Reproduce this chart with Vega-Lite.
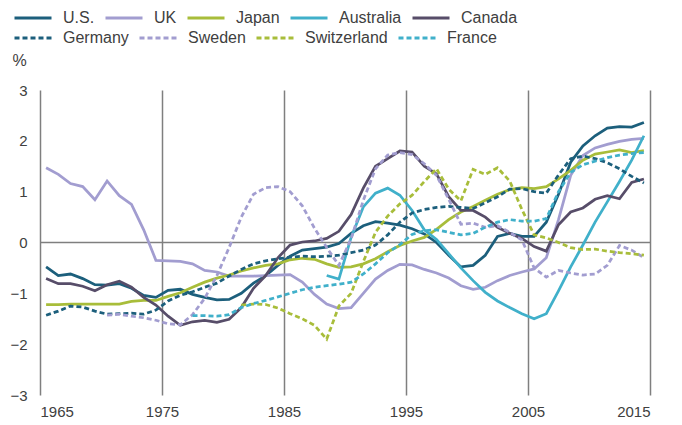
{
  "$schema": "https://vega.github.io/schema/vega-lite/v6.json",
  "width": 610,
  "height": 305,
  "autosize": "none",
  "padding": {"left": 40, "top": 90, "right": 32, "bottom": 30},
  "background": "white",
  "config": {
    "font": "Liberation Sans",
    "view": {"stroke": null},
    "legend": {
      "title": null, "orient": "none", "direction": "horizontal",
      "symbolType": "stroke", "symbolSize": 1369, "symbolStrokeWidth": 3,
      "labelFontSize": 16, "labelColor": "#404040", "labelOffset": 10,
      "columnPadding": 4
    }
  },
  "data": {
    "values": [
      {"year": 1965, "US": -0.48, "UK": 1.47, "Japan": -1.22, "Canada": -0.71, "Germany": -1.43},
      {"year": 1966, "US": -0.65, "UK": 1.34, "Japan": -1.22, "Canada": -0.81, "Germany": -1.35},
      {"year": 1967, "US": -0.62, "UK": 1.16, "Japan": -1.21, "Canada": -0.81, "Germany": -1.25},
      {"year": 1968, "US": -0.71, "UK": 1.10, "Japan": -1.21, "Canada": -0.86, "Germany": -1.27},
      {"year": 1969, "US": -0.83, "UK": 0.84, "Japan": -1.21, "Canada": -0.95, "Germany": -1.35},
      {"year": 1970, "US": -0.84, "UK": 1.21, "Japan": -1.21, "Canada": -0.83, "Germany": -1.41, "Sweden": -1.43},
      {"year": 1971, "US": -0.81, "UK": 0.92, "Japan": -1.21, "Canada": -0.76, "Germany": -1.40, "Sweden": -1.41},
      {"year": 1972, "US": -0.90, "UK": 0.75, "Japan": -1.16, "Canada": -0.88, "Germany": -1.39, "Sweden": -1.45},
      {"year": 1973, "US": -1.04, "UK": 0.25, "Japan": -1.14, "Canada": -1.08, "Germany": -1.41, "Sweden": -1.48},
      {"year": 1974, "US": -1.08, "UK": -0.35, "Japan": -1.14, "Canada": -1.23, "Germany": -1.33, "Sweden": -1.53},
      {"year": 1975, "US": -0.94, "UK": -0.36, "Japan": -1.06, "Canada": -1.45, "Germany": -1.15, "Sweden": -1.60},
      {"year": 1976, "US": -0.92, "UK": -0.37, "Japan": -0.99, "Canada": -1.63, "Germany": -1.04, "Sweden": -1.62},
      {"year": 1977, "US": -1.02, "UK": -0.42, "Japan": -0.88, "Canada": -1.56, "Germany": -0.97, "Sweden": -1.42, "France": -1.44},
      {"year": 1978, "US": -1.08, "UK": -0.55, "Japan": -0.78, "Canada": -1.53, "Germany": -0.88, "Sweden": -1.10, "France": -1.44},
      {"year": 1979, "US": -1.13, "UK": -0.58, "Japan": -0.70, "Canada": -1.57, "Germany": -0.80, "Sweden": -0.65, "France": -1.45},
      {"year": 1980, "US": -1.12, "UK": -0.66, "Japan": -0.64, "Canada": -1.51, "Germany": -0.66, "Sweden": -0.10, "France": -1.42},
      {"year": 1981, "US": -1.00, "UK": -0.66, "Japan": -0.56, "Canada": -1.28, "Germany": -0.53, "Sweden": 0.50, "Switzerland": -1.23, "France": -1.28},
      {"year": 1982, "US": -0.80, "UK": -0.66, "Japan": -0.50, "Canada": -0.90, "Germany": -0.42, "Sweden": 0.95, "Switzerland": -1.21, "France": -1.20},
      {"year": 1983, "US": -0.65, "UK": -0.65, "Japan": -0.45, "Canada": -0.65, "Germany": -0.36, "Sweden": 1.08, "Switzerland": -1.22, "France": -1.14},
      {"year": 1984, "US": -0.45, "UK": -0.64, "Japan": -0.42, "Canada": -0.30, "Germany": -0.32, "Sweden": 1.10, "Switzerland": -1.29, "France": -1.07},
      {"year": 1985, "US": -0.27, "UK": -0.63, "Japan": -0.34, "Canada": -0.05, "Germany": -0.29, "Sweden": 1.00, "Switzerland": -1.40, "France": -1.00},
      {"year": 1986, "US": -0.15, "UK": -0.78, "Japan": -0.31, "Canada": 0.01, "Germany": -0.27, "Sweden": 0.72, "Switzerland": -1.50, "France": -0.93},
      {"year": 1987, "US": -0.12, "UK": -1.02, "Japan": -0.33, "Canada": 0.03, "Germany": -0.28, "Sweden": 0.28, "Switzerland": -1.63, "France": -0.88},
      {"year": 1988, "US": -0.09, "UK": -1.21, "Japan": -0.42, "Australia": -0.65, "Canada": 0.08, "Germany": -0.27, "Sweden": -0.10, "Switzerland": -1.90, "France": -0.85},
      {"year": 1989, "US": -0.02, "UK": -1.30, "Japan": -0.49, "Australia": -0.72, "Canada": 0.22, "Germany": -0.25, "Sweden": -0.45, "Switzerland": -1.25, "France": -0.82},
      {"year": 1990, "US": 0.18, "UK": -1.28, "Japan": -0.48, "Australia": 0.10, "Canada": 0.55, "Germany": -0.20, "Sweden": 0.07, "Switzerland": -1.00, "France": -0.78},
      {"year": 1991, "US": 0.33, "UK": -1.00, "Japan": -0.42, "Australia": 0.70, "Canada": 1.07, "Germany": -0.15, "Sweden": 0.83, "Switzerland": -0.38, "France": -0.62},
      {"year": 1992, "US": 0.41, "UK": -0.72, "Japan": -0.32, "Australia": 0.97, "Canada": 1.50, "Germany": -0.05, "Sweden": 1.45, "Switzerland": 0.20, "France": -0.42},
      {"year": 1993, "US": 0.38, "UK": -0.55, "Japan": -0.18, "Australia": 1.07, "Canada": 1.65, "Germany": 0.15, "Sweden": 1.72, "Switzerland": 0.52, "France": -0.20},
      {"year": 1994, "US": 0.34, "UK": -0.43, "Japan": -0.06, "Australia": 0.93, "Canada": 1.80, "Germany": 0.40, "Sweden": 1.77, "Switzerland": 0.76, "France": -0.04},
      {"year": 1995, "US": 0.27, "UK": -0.44, "Japan": 0.03, "Australia": 0.63, "Canada": 1.78, "Germany": 0.58, "Sweden": 1.73, "Switzerland": 0.93, "France": 0.16},
      {"year": 1996, "US": 0.17, "UK": -0.53, "Japan": 0.10, "Australia": 0.25, "Canada": 1.50, "Germany": 0.65, "Sweden": 1.55, "Switzerland": 1.20, "France": 0.23},
      {"year": 1997, "US": 0.00, "UK": -0.60, "Japan": 0.26, "Australia": 0.06, "Canada": 1.35, "Germany": 0.69, "Sweden": 1.32, "Switzerland": 1.45, "France": 0.25},
      {"year": 1998, "US": -0.25, "UK": -0.70, "Japan": 0.45, "Australia": -0.22, "Canada": 0.90, "Germany": 0.71, "Sweden": 0.85, "Switzerland": 1.05, "France": 0.20},
      {"year": 1999, "US": -0.48, "UK": -0.85, "Japan": 0.60, "Australia": -0.50, "Canada": 0.63, "Germany": 0.69, "Sweden": 0.36, "Switzerland": 0.82, "France": 0.15},
      {"year": 2000, "US": -0.45, "UK": -0.92, "Japan": 0.71, "Australia": -0.75, "Canada": 0.63, "Germany": 0.67, "Sweden": 0.38, "Switzerland": 1.44, "France": 0.18},
      {"year": 2001, "US": -0.25, "UK": -0.88, "Japan": 0.83, "Australia": -0.98, "Canada": 0.50, "Germany": 0.78, "Sweden": 0.30, "Switzerland": 1.34, "France": 0.30},
      {"year": 2002, "US": 0.12, "UK": -0.75, "Japan": 0.95, "Australia": -1.15, "Canada": 0.30, "Germany": 0.90, "Sweden": 0.33, "Switzerland": 1.47, "France": 0.40},
      {"year": 2003, "US": 0.18, "UK": -0.65, "Japan": 1.04, "Australia": -1.28, "Canada": 0.18, "Germany": 1.05, "Sweden": 0.20, "Switzerland": 1.21, "France": 0.45},
      {"year": 2004, "US": 0.12, "UK": -0.58, "Japan": 1.08, "Australia": -1.40, "Canada": 0.08, "Germany": 1.06, "Sweden": 0.05, "Switzerland": 0.65, "France": 0.42},
      {"year": 2005, "US": 0.12, "UK": -0.52, "Japan": 1.06, "Australia": -1.50, "Canada": -0.08, "Germany": 1.00, "Sweden": -0.50, "Switzerland": 0.15, "France": 0.42},
      {"year": 2006, "US": 0.40, "UK": -0.30, "Japan": 1.10, "Australia": -1.40, "Canada": -0.17, "Germany": 0.97, "Sweden": -0.68, "Switzerland": 0.09, "France": 0.47},
      {"year": 2007, "US": 0.95, "UK": 0.45, "Japan": 1.25, "Australia": -0.95, "Canada": 0.35, "Germany": 1.33, "Sweden": -0.55, "Switzerland": 0.00, "France": 1.00},
      {"year": 2008, "US": 1.58, "UK": 1.32, "Japan": 1.42, "Australia": -0.48, "Canada": 0.60, "Germany": 1.65, "Sweden": -0.60, "Switzerland": -0.10, "France": 1.38},
      {"year": 2009, "US": 1.90, "UK": 1.71, "Japan": 1.62, "Australia": -0.05, "Canada": 0.68, "Germany": 1.70, "Sweden": -0.64, "Switzerland": -0.14, "France": 1.53},
      {"year": 2010, "US": 2.10, "UK": 1.86, "Japan": 1.74, "Australia": 0.40, "Canada": 0.85, "Germany": 1.65, "Sweden": -0.62, "Switzerland": -0.13, "France": 1.60},
      {"year": 2011, "US": 2.25, "UK": 1.93, "Japan": 1.78, "Australia": 0.80, "Canada": 0.92, "Germany": 1.57, "Sweden": -0.45, "Switzerland": -0.17, "France": 1.67},
      {"year": 2012, "US": 2.28, "UK": 1.99, "Japan": 1.82, "Australia": 1.20, "Canada": 0.86, "Germany": 1.45, "Sweden": -0.06, "Switzerland": -0.20, "France": 1.72},
      {"year": 2013, "US": 2.27, "UK": 2.03, "Japan": 1.77, "Australia": 1.62, "Canada": 1.18, "Germany": 1.30, "Sweden": -0.15, "Switzerland": -0.22, "France": 1.75},
      {"year": 2014, "US": 2.36, "UK": 2.05, "Japan": 1.81, "Australia": 2.10, "Canada": 1.25, "Germany": 1.17, "Sweden": -0.30, "Switzerland": -0.25, "France": 1.77}
    ]
  },
  "encoding": {
    "x": {
      "field": "year", "type": "quantitative",
      "scale": {"domain": [1964.5, 2014.5], "nice": false, "zero": false},
      "axis": {
        "title": null,
        "values": [1964.5, 1974.5, 1984.5, 1994.5, 2004.5, 2014.5],
        "labelExpr": "'' + (datum.value + 0.5)",
        "grid": true, "gridColor": "#7f7f7f", "gridWidth": 1.5,
        "domain": false, "ticks": false,
        "labelFontSize": 15, "labelColor": "#404040", "labelPadding": 9
      }
    },
    "y": {
      "field": "value", "type": "quantitative",
      "scale": {"domain": [-3, 3], "nice": false},
      "axis": {
        "title": "%", "titleAngle": 0, "titleAlign": "left", "titleBaseline": "middle",
        "titleX": -28, "titleY": -30, "titleFontSize": 16, "titleFontWeight": "normal", "titleColor": "#404040",
        "values": [-3, -2, -1, 0, 1, 2, 3],
        "grid": false, "domain": false, "ticks": false,
        "labelFontSize": 15, "labelColor": "#404040", "labelPadding": 13
      }
    }
  },
  "layer": [
    {
      "data": {"values": [{"year": 1964.5, "value": 0}, {"year": 2014.5, "value": 0}]},
      "mark": {"type": "rule", "color": "#7f7f7f", "strokeWidth": 1.5},
      "encoding": {
        "x": {"field": "year", "type": "quantitative", "aggregate": "min"},
        "x2": {"field": "year", "aggregate": "max"},
        "y": {"field": "value", "type": "quantitative", "aggregate": "min"}
      }
    },
    {
      "transform": [
        {"fold": ["US", "UK", "Japan", "Australia", "Canada"], "as": ["country", "value"]}
      ],
      "mark": {"type": "line", "strokeWidth": 2.75},
      "encoding": {
        "color": {
          "field": "country", "type": "nominal",
          "scale": {
            "domain": ["US", "UK", "Japan", "Australia", "Canada"],
            "range": ["#1c5f7c", "#a29dd0", "#a8bd3a", "#40b0ca", "#574d69"]
          },
          "legend": {
            "legendX": -27, "legendY": -92,
            "labelExpr": "datum.label == 'US' ? 'U.S.' : datum.label"
          }
        }
      }
    },
    {
      "transform": [
        {"fold": ["Germany", "Sweden", "Switzerland", "France"], "as": ["country", "value"]}
      ],
      "mark": {"type": "line", "strokeWidth": 2.75, "strokeDash": [5, 3]},
      "encoding": {
        "color": {
          "field": "country", "type": "nominal",
          "scale": {
            "domain": ["Germany", "Sweden", "Switzerland", "France"],
            "range": ["#1c5f7c", "#a29dd0", "#a8bd3a", "#40b0ca"]
          },
          "legend": {
            "legendX": -27, "legendY": -72,
            "symbolDash": [5, 3]
          }
        }
      }
    }
  ],
  "resolve": {"scale": {"color": "independent"}, "legend": {"color": "independent"}}
}
